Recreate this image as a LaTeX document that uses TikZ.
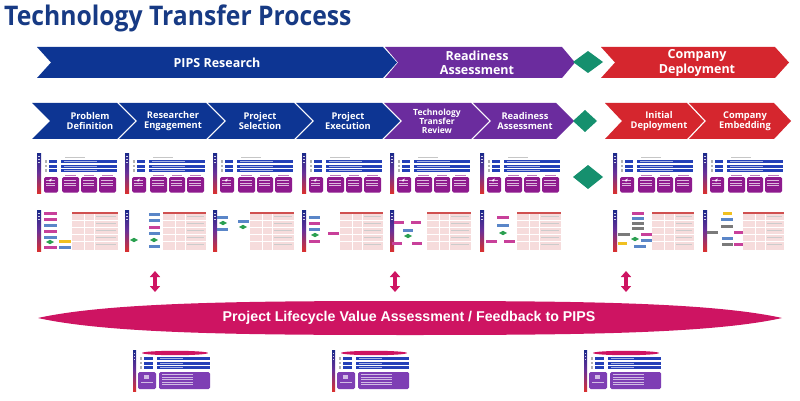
\documentclass[tikz,border=0pt]{standalone}
\usepackage{fontspec}
\setmainfont{Open Sans}
\newfontfamily\arialfont{Liberation Sans}
\usetikzlibrary{arrows.meta}
\definecolor{titleblue}{HTML}{173A84}
\definecolor{cblue}{HTML}{0D3593}
\definecolor{cpurple}{HTML}{6B2C9E}
\definecolor{cred}{HTML}{D5262E}
\definecolor{cgreen}{HTML}{15906E}
\definecolor{cmag}{HTML}{CE1462}
\definecolor{gbTop}{HTML}{1A2A8A}
\definecolor{gbMid}{HTML}{6A3098}
\definecolor{gbBot}{HTML}{D83030}
\definecolor{slblue}{HTML}{2440B8}
\definecolor{slpurple}{HTML}{8E1A8E}
\definecolor{slviolet}{HTML}{7E3EB4}
\definecolor{fmag}{HTML}{C8409A}
\definecolor{fblue}{HTML}{5A86C8}
\definecolor{fgreen}{HTML}{2AA050}
\definecolor{fyellow}{HTML}{F0C020}
\definecolor{fgray}{HTML}{7A7A7A}
\definecolor{tpink}{HTML}{F6DCDC}
\definecolor{tred}{HTML}{D05050}
\newcommand\chev[7]{%
  \fill[#2] (#3,#5) -- (#4,#5) -- ({#4+#7},{(#5+#6)/2}) -- (#4,#6) -- (#3,#6) -- ({#3+#7},{(#5+#6)/2}) -- cycle;
  \coordinate (#1) at ({(#3+#4)/2+#7/2},{(#5+#6)/2});}
\newcommand\gbar[2]{\shade[top color=gbTop, bottom color=gbBot, middle color=gbMid] (0,0) rectangle (#1,#2);
  \foreach \yy in {3,6,9} \fill[white!80!gbTop] (0.9,\yy) rectangle ({#1-0.9},\yy+1.3);}
\newcommand\fb[4]{\fill[#1] (#2,#3) rectangle ({#2+#4},#3+3.2);}
\newcommand\fd[3]{\fill[#1] ({#2-4},#3) -- (#2,#3-2.2) -- ({#2+4},#3) -- (#2,#3+2.2) -- cycle;}
\newcommand\slideA[2]{\begin{scope}[shift={(#1,#2)}]
  \gbar{4}{40}
  \fill[gray!45] (28,3.5) rectangle (48,4.4);
  \foreach \yy in {7,11.5,16} {
    \fill[gray!60] (7.5,\yy+0.3) rectangle (9.5,\yy+2.7);
    \fill[slblue] (12,\yy) rectangle (20,\yy+3);
    \fill[slblue] (24,\yy) rectangle (80,\yy+3);
    \fill[white!60!slblue] (27,\yy+1.3) rectangle (60,\yy+1.8);
  }
  \foreach \a/\b in {7/21,25/42,44/60,62/79} {
    \fill[slpurple, rounded corners=1.5pt] (\a,24) rectangle (\b,39.5);
    \foreach \t in {27,29.5,32} \fill[white!70!slpurple] (\a+2,\t) rectangle (\b-3,\t+0.6);
  }
  \foreach \a/\b in {25/42,44/60,62/79} \fill[white!40!slpurple] (\a+3,21.8) rectangle (\b-3,22.8);
  \fill[white] (12,27) -- (15,25.5) -- (13,29) -- cycle;
\end{scope}}
\newcommand\slideB[4]{\begin{scope}[shift={(#1,#2)}]
  \gbar{4}{41}
  \fill[tpink] (#3,1.5) rectangle (81,40);
  \fill[tred] (#3,1.5) rectangle (81,4);
  \foreach \yy in {10,17,24,31} \draw[white, line width=0.6pt] (#3,\yy) -- (81,\yy);
  \draw[white, line width=0.6pt] ({#3+12},4) -- ({#3+12},40) ({#3+22},4) -- ({#3+22},40);
  \foreach \yy in {6,13,20,27,34} \fill[gray!40] ({#3+24},\yy) rectangle (79,\yy+0.6);
  #4
\end{scope}}
\newcommand\slideC[2]{\begin{scope}[shift={(#1,#2)}]
  \gbar{3}{41}
  \fill[cmag] (42,3) ellipse [x radius=33, y radius=2.2];
  \foreach \yy in {7,11.5,16} {
    \fill[gray!60] (7,\yy+0.3) rectangle (9,\yy+2.7);
    \fill[slblue] (11,\yy) rectangle (20,\yy+3);
    \fill[slblue] (24,\yy) rectangle (77,\yy+3);
    \fill[white!60!slblue] (27,\yy+1.3) rectangle (50,\yy+1.8);
  }
  \fill[slviolet, rounded corners=1.5pt] (5,22) rectangle (23,39);
  \fill[slviolet, rounded corners=1.5pt] (26,22) rectangle (77,39);
  \foreach \t in {24,26.5,29,31.5,34} \fill[white!65!slviolet] (29,\t) rectangle (60,\t+0.6);
  \fill[white!65!slviolet] (11,25) rectangle (16,29);
  \fill[white!65!slviolet] (8,32) rectangle (20,32.6);
\end{scope}}
\tikzset{
  lab/.style={text=white, font=\bfseries\fontsize{9.3}{10}\selectfont, align=center, inner sep=0pt},
  biglab/.style={text=white, font=\bfseries\fontsize{12.5}{14.5}\selectfont, align=center, inner sep=0pt},
  dbl/.style={cmag, line width=3.5pt, {Triangle[width=10pt,length=6pt]}-{Triangle[width=10pt,length=6pt]}},
  gem/.style={fill=cgreen}
}
\begin{document}
\begin{tikzpicture}[x=1pt,y=-1pt]
\useasboundingbox (0,0) rectangle (800,401);
\fill[white] (0,0) rectangle (800,401);
\node[anchor=base west, text=titleblue, font=\bfseries\fontsize{27}{30}\selectfont, inner sep=0pt] (title) at (4,26) {\scalebox{0.915}[1]{Technology Transfer Process}};
% top row
\chev{cA}{cblue}{37}{383}{47}{78}{14}
\chev{cB}{cpurple}{385}{562}{47}{78}{13}
\fill[gem] (573,62) -- (588,51) -- (603,62) -- (588,73) -- cycle;
\chev{cC}{cred}{601}{775}{47}{78}{14}
\node[biglab] (tA) at (217,63) {PIPS Research};
\node[biglab] (tB) at (477,63) {Readiness\\Assessment};
\node[biglab] (tC) at (697,63) {Company\\Deployment};
% second row
\chev{r1}{cblue}{32}{117}{103}{139}{18}
\chev{r2}{cblue}{119}{206}{103}{139}{18}
\chev{r3}{cblue}{208}{294}{103}{139}{18}
\chev{r4}{cblue}{296}{382}{103}{139}{18}
\chev{r5}{cpurple}{384}{471}{103}{139}{18}
\chev{r6}{cpurple}{473}{556}{103}{139}{18}
\fill[gem] (573,121) -- (585,110) -- (597,121) -- (585,132) -- cycle;
\chev{r7}{cred}{605}{687}{103}{139}{17}
\chev{r8}{cred}{689}{774}{103}{139}{17}
\node[lab] (l1) at (90,121) {Problem\\Definition};
\node[lab] (l2) at (173,121) {Researcher\\Engagement};
\node[lab] (l3) at (260,121) {Project\\Selection};
\node[lab] (l4) at (348,121) {Project\\Execution};
\node[lab, font=\bfseries\fontsize{8.5}{8.4}\selectfont] (l5) at (437,121) {Technology\\Transfer\\Review};
\node[lab] (l6) at (525,121) {Readiness\\Assessment};
\node[lab] (l7) at (659,121) {Initial\\Deployment};
\node[lab] (l8) at (745,121) {Company\\Embedding};
% third row: slides
\slideA{37}{153}\slideA{125}{153}\slideA{213}{153}\slideA{302}{153}
\slideA{390}{153}\slideA{480}{153}\slideA{613}{153}\slideA{703}{153}
\fill[gem] (573,177) -- (588,165) -- (603,177) -- (588,189) -- cycle;
% fourth row: flow slides
\slideB{37}{210}{35}{\fb{fmag}{7}{2}{13}\fb{fmag}{7}{8}{13}\fb{fblue}{7}{14}{13}\fb{fmag}{7}{20}{13}\fb{fblue}{7}{26}{13}\fd{fgreen}{13}{32}\fb{fmag}{7}{36}{13}\fb{fyellow}{22}{30}{12}\fb{fblue}{22}{36}{12}}
\slideB{125}{210}{38}{\fb{fblue}{24}{3}{11}\fb{fblue}{24}{9}{11}\fb{fmag}{24}{16}{11}\fb{fblue}{24}{22}{11}\fd{fgreen}{9}{30}\fd{fgreen}{29}{30}\fb{fblue}{24}{35}{11}}
\slideB{213}{210}{37}{\fb{fblue}{4}{6}{11}\fd{fgreen}{10}{13}\fb{fblue}{4}{18}{11}\fb{fblue}{25}{10}{11}\fd{fgreen}{30}{17}}
\slideB{302}{210}{38}{\fb{fblue}{7}{6}{11}\fb{fmag}{7}{12}{11}\fb{fblue}{7}{18}{11}\fd{fgreen}{13}{25}\fb{fmag}{7}{30}{11}\fb{fmag}{26}{22}{11}}
\slideB{390}{210}{37}{\fb{fmag}{4}{11}{10}\fb{fmag}{21}{11}{10}\fb{fblue}{13}{19}{10}\fd{fgreen}{18}{26}\fb{fmag}{2}{32}{10}\fb{fmag}{22}{32}{10}}
\slideB{480}{210}{37}{\fb{fmag}{17}{6}{12}\fb{fblue}{17}{14}{12}\fd{fgreen}{23}{23}\fb{fmag}{6}{30}{11}\fb{fmag}{24}{30}{11}}
\slideB{613}{210}{39}{\fb{fmag}{19}{2}{12}\fb{fblue}{19}{7}{12}\fb{fgray}{19}{12}{12}\fb{fgray}{19}{17}{12}\fb{fgray}{5}{23}{12}\fb{fmag}{28}{23}{11}\fd{fgreen}{22}{29}\fb{fblue}{28}{29}{11}\fb{fyellow}{5}{32}{9}\fb{fblue}{21}{35}{12}}
\slideB{703}{210}{40}{\fb{fyellow}{20}{1.5}{9}\fb{fblue}{18}{8}{12}\fb{fgray}{18}{15}{12}\fb{fgray}{4}{21}{11}\fb{fmag}{31}{21}{9}\fb{fblue}{19}{27}{11}\fb{fgray}{19}{33}{11}\fb{fmag}{31}{33}{9}}
% double arrows
\coordinate (a1t) at (155,271); \coordinate (a1b) at (155,292);
\coordinate (a2t) at (395,271); \coordinate (a2b) at (395,292);
\coordinate (a3t) at (626,271); \coordinate (a3b) at (626,292);
\draw[dbl] (a1t) -- (a1b);
\draw[dbl] (a2t) -- (a2b);
\draw[dbl] (a3t) -- (a3b);
% ellipse
\fill[cmag] (38,318) .. controls (110,302) and (250,301) .. (410,301) .. controls (570,301) and (710,302) .. (782,318) .. controls (710,334) and (570,335) .. (410,335) .. controls (250,335) and (110,334) .. (38,318) -- cycle;
\node[text=white, font=\arialfont\bfseries\fontsize{14.2}{16}\selectfont, inner sep=0pt] (fb) at (409,318) {Project Lifecycle Value Assessment / Feedback to PIPS};
% bottom slides
\slideC{133}{350}\slideC{332}{350}\slideC{584}{350}
\end{tikzpicture}
\end{document}
